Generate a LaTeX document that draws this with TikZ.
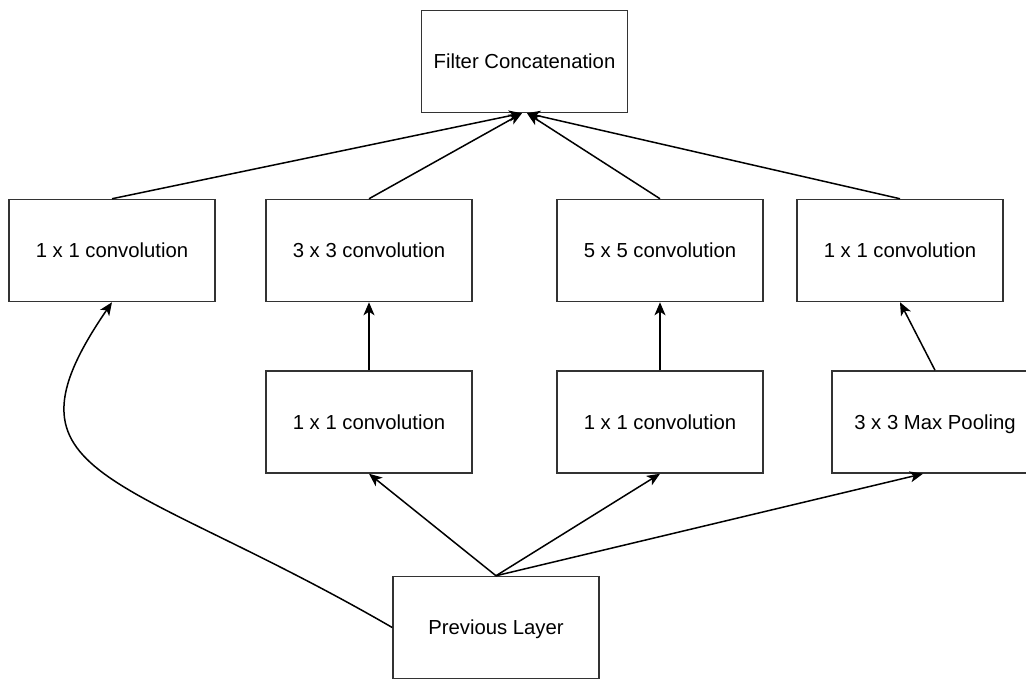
\documentclass[tikz,border=0pt]{standalone}
\usepackage{fontspec}
\setmainfont{Liberation Sans}
\usetikzlibrary{arrows.meta}
\definecolor{edgegray}{HTML}{333333}
\begin{document}
\begin{tikzpicture}[x=1pt,y=-1pt,
  block/.style={draw=edgegray, line width=1.5pt, fill=white, minimum width=206pt,
    minimum height=102pt, inner sep=0pt, text height=14.6pt, text depth=0pt,
    font=\fontsize{20.3}{24}\selectfont, text=black},
  link/.style={draw=black, line width=1.5pt, -{Stealth[length=13pt,width=11pt,inset=3.5pt]}}]
  \clip (0,0) rectangle (1026,680);
  \fill[white] (0,0) rectangle (1026,680);

  % output concatenation
  \node[block] (filt) at (524.5,61.5) {Filter Concatenation};

  % upper row of branches
  \node[block] (c1a) at (112,250.5) {1 x 1 convolution};
  \node[block] (c3)  at (369,250.5) {3 x 3 convolution};
  \node[block] (c5)  at (660,250.5) {5 x 5 convolution};
  \node[block] (c1d) at (900,250.5) {1 x 1 convolution};

  % lower row of branches
  \node[block] (r3) at (369,422) {1 x 1 convolution};
  \node[block] (r5) at (660,422) {1 x 1 convolution};
  \node[block] (mp) at (935,422) {3 x 3 Max Pooling};

  % input
  \node[block] (prev) at (496,627.5) {Previous Layer};

  % branches into the concatenation
  \coordinate (inL) at ([xshift=-2.5pt]filt.south);
  \coordinate (inR) at ([xshift=2.5pt]filt.south);
  \draw[link] (c1a.north) -- (inL);
  \draw[link] (c3.north) -- (inL);
  \draw[link] (c5.north) -- (inR);
  \draw[link] (c1d.north) -- (inR);

  % reductions into the wide convolutions
  \draw[link] (r3.north) -- (c3.south);
  \draw[link] (r5.north) -- (c5.south);
  \draw[link] (mp.north) -- (c1d.south);

  % input fan-out
  \coordinate (mpin) at ([xshift=-12pt]mp.south);
  \draw[link] (prev.north) -- (r3.south);
  \draw[link] (prev.north) -- (r5.south);
  \draw[link] (prev.north) -- (mpin);
  \draw[link] (prev.west) .. controls (120,470) and (-10,480) .. (c1a.south);
\end{tikzpicture}
\end{document}
